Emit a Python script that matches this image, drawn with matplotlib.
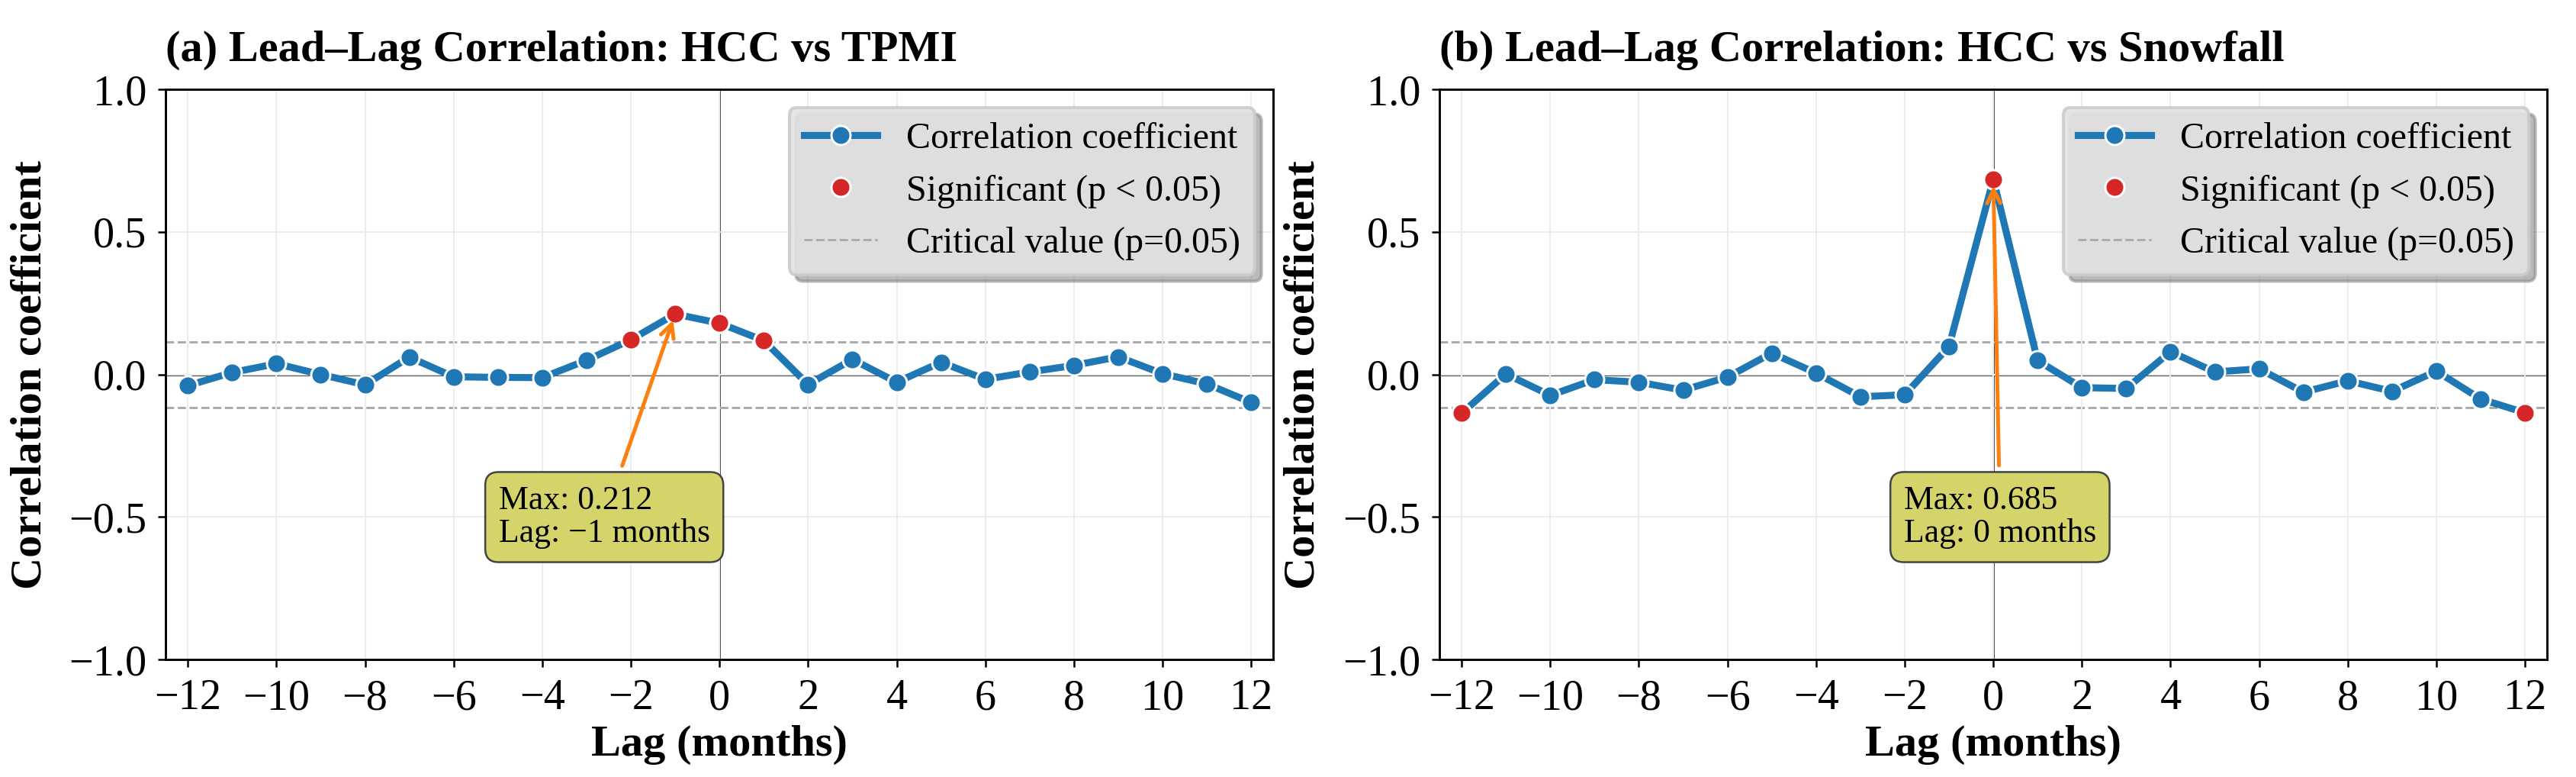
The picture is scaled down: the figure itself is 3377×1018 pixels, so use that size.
import numpy as np
import matplotlib
matplotlib.use("Agg")
import matplotlib.pyplot as plt

plt.rcParams['font.family'] = ['Liberation Serif', 'DejaVu Serif']

# lags in months
lags = np.arange(-12, 13)

# HCC vs TPMI
corr_tpmi = [-0.039, 0.007, 0.038, 0.000, -0.036, 0.061, -0.008, -0.010, -0.011,
             0.050, 0.122, 0.212, 0.180, 0.119, -0.035, 0.053, -0.027, 0.043,
             -0.017, 0.009, 0.032, 0.062, 0.003, -0.033, -0.098]
sig_tpmi = [-2, -1, 0, 1]

# HCC vs Snowfall
corr_snow = [-0.136, 0.002, -0.073, -0.018, -0.027, -0.055, -0.009, 0.075, 0.005,
             -0.078, -0.071, 0.098, 0.685, 0.049, -0.046, -0.049, 0.080, 0.009,
             0.020, -0.062, -0.022, -0.059, 0.012, -0.086, -0.134]
sig_snow = [-12, 0, 12]

crit_value = 0.115

titles = ["(a) Lead\u2013Lag Correlation: HCC vs TPMI",
          "(b) Lead\u2013Lag Correlation: HCC vs Snowfall"]
text_pos = [(-2.6, -0.5), (0.15, -0.5)]

fig = plt.figure(figsize=(3377 / 300, 1018 / 300), dpi=300)
ax_a = fig.add_axes([0.0643, 0.151, 0.430, 0.734])
ax_b = fig.add_axes([0.5588, 0.151, 0.430, 0.734])

panels = [(ax_a, corr_tpmi, sig_tpmi), (ax_b, corr_snow, sig_snow)]

for i, (ax, corr, sig) in enumerate(panels):
    corr = np.array(corr)
    ax.grid(True, color='#ededed', lw=0.5, zorder=0)
    ax.axhline(0, color='#333333', lw=0.7, zorder=1)
    ax.axvline(0, color='#444444', lw=0.7, zorder=1)
    ax.axhline(crit_value, color='#aaaaaa', ls='--', lw=0.7, zorder=1)
    ax.axhline(-crit_value, color='#aaaaaa', ls='--', lw=0.7, zorder=1)

    line, = ax.plot(lags, corr, color='#1f77b4', lw=2.2, marker='o', ms=6,
                    mec='white', mew=0.7, zorder=3)
    mask = np.isin(lags, sig)
    sig_pts, = ax.plot(lags[mask], corr[mask], ls='none', marker='o', ms=6,
                       color='#d62728', mec='white', mew=0.7, zorder=4)
    crit_handle, = ax.plot([], [], color='#aaaaaa', ls='--', lw=0.7)

    k = int(np.argmax(corr))
    ax.annotate(f"Max: {corr[k]:.3f}\nLag: {lags[k]} months".replace('-', '\u2212'),
                xy=(lags[k], corr[k]), xytext=text_pos[i],
                ha='center', va='center', multialignment='left',
                fontsize=10.5, linespacing=1.1,
                bbox=dict(boxstyle='round,pad=0.4', fc='#d4d46a', ec='#444444', lw=0.6),
                arrowprops=dict(arrowstyle='->', color='#ff7f0e', lw=1.2),
                zorder=5)

    ax.set_xlim(-12.5, 12.5)
    ax.set_ylim(-1.0, 1.0)
    ax.set_xticks(np.arange(-12, 13, 2))
    ax.set_yticks([-1.0, -0.5, 0.0, 0.5, 1.0])
    ax.tick_params(labelsize=13.5, length=2.5, width=0.6)
    for s in ax.spines.values():
        s.set_linewidth(0.7)
    ax.set_xlabel("Lag (months)", fontsize=14, fontweight='bold', labelpad=2)
    ax.set_ylabel("Correlation coefficient", fontsize=14, fontweight='bold', labelpad=6)
    ax.set_title(titles[i], loc='left', fontsize=14, fontweight='bold', pad=9)

    leg = ax.legend([line, sig_pts, crit_handle],
                    ["Correlation coefficient", "Significant (p < 0.05)",
                     "Critical value (p=0.05)"],
                    loc='upper right', fontsize=11.5, frameon=True, fancybox=True,
                    shadow={'color': '0.55', 'alpha': 0.6},
                    framealpha=0.9, facecolor='#e3e3e3', edgecolor='#cccccc')
    leg.set_zorder(6)

fig.savefig("out.png", dpi=300)
